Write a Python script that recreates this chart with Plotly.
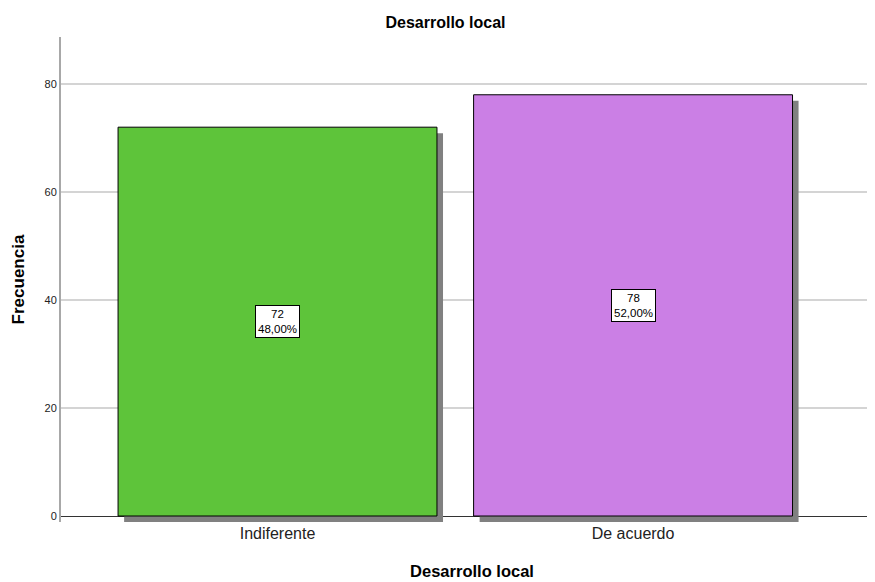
import plotly.graph_objects as go

categories = ["Indiferente", "De acuerdo"]
counts = [72, 78]
percent_labels = ["48,00%", "52,00%"]
bar_colors = ["#5ec43a", "#cb7fe5"]

FONT = "Liberation Sans Narrow, Arial Narrow, Liberation Sans, Arial, sans-serif"

W, H = 875, 582
bar_w = 0.897
shadow_dx = 0.017
shadow_dy = 1.11

fig = go.Figure()

# shadow
fig.add_trace(go.Bar(
    x=categories, y=counts, base=[-shadow_dy] * len(counts),
    width=bar_w, offset=-bar_w / 2 + shadow_dx,
    marker=dict(color="#808080", line=dict(width=0)),
    hoverinfo="skip", showlegend=False,
))
# main bars
fig.add_trace(go.Bar(
    x=categories, y=counts,
    width=bar_w, offset=-bar_w / 2,
    marker=dict(color=bar_colors, line=dict(color="#000000", width=1)),
    showlegend=False,
))

for c, v, p in zip(categories, counts, percent_labels):
    fig.add_annotation(
        x=c, y=v / 2, text=f"{v}<br>{p}", showarrow=False,
        font=dict(family=FONT, size=11.5, color="#000000"),
        bgcolor="#ffffff", bordercolor="#000000", borderwidth=1, borderpad=2,
        xref="x", yref="y",
    )

fig.update_layout(
    width=W, height=H,
    paper_bgcolor="#ffffff", plot_bgcolor="#ffffff",
    barmode="overlay",
    margin=dict(l=53, r=0, t=29, b=68),
    font=dict(family=FONT, color="#222222"),
    title=dict(text="<b>Desarrollo local</b>", x=0.5, xanchor="center",
               y=1 - 14 / H, yanchor="middle",
               font=dict(family=FONT, size=16, color="#000000")),
)

fig.update_xaxes(
    range=[-0.609, 1.703], showgrid=False, showline=False, zeroline=False,
    ticks="", tickfont=dict(family=FONT, size=16, color="#222222"),
    title=dict(text="<b>Desarrollo local</b>", standoff=24,
               font=dict(family=FONT, size=16.5, color="#000000")),
)
fig.update_yaxes(
    range=[-shadow_dy, 88.7], tickvals=[0, 20, 40, 60, 80],
    showgrid=True, gridcolor="#d4d4d4", gridwidth=1.5,
    zeroline=True, zerolinecolor="#333333", zerolinewidth=1,
    showline=True, linecolor="#a8a8a8", linewidth=2,
    ticks="", tickfont=dict(family=FONT, size=11, color="#222222"),
    title=dict(text="<b>Frecuencia</b>", standoff=16,
               font=dict(family=FONT, size=17, color="#000000")),
)

fig.write_html("out.html")
